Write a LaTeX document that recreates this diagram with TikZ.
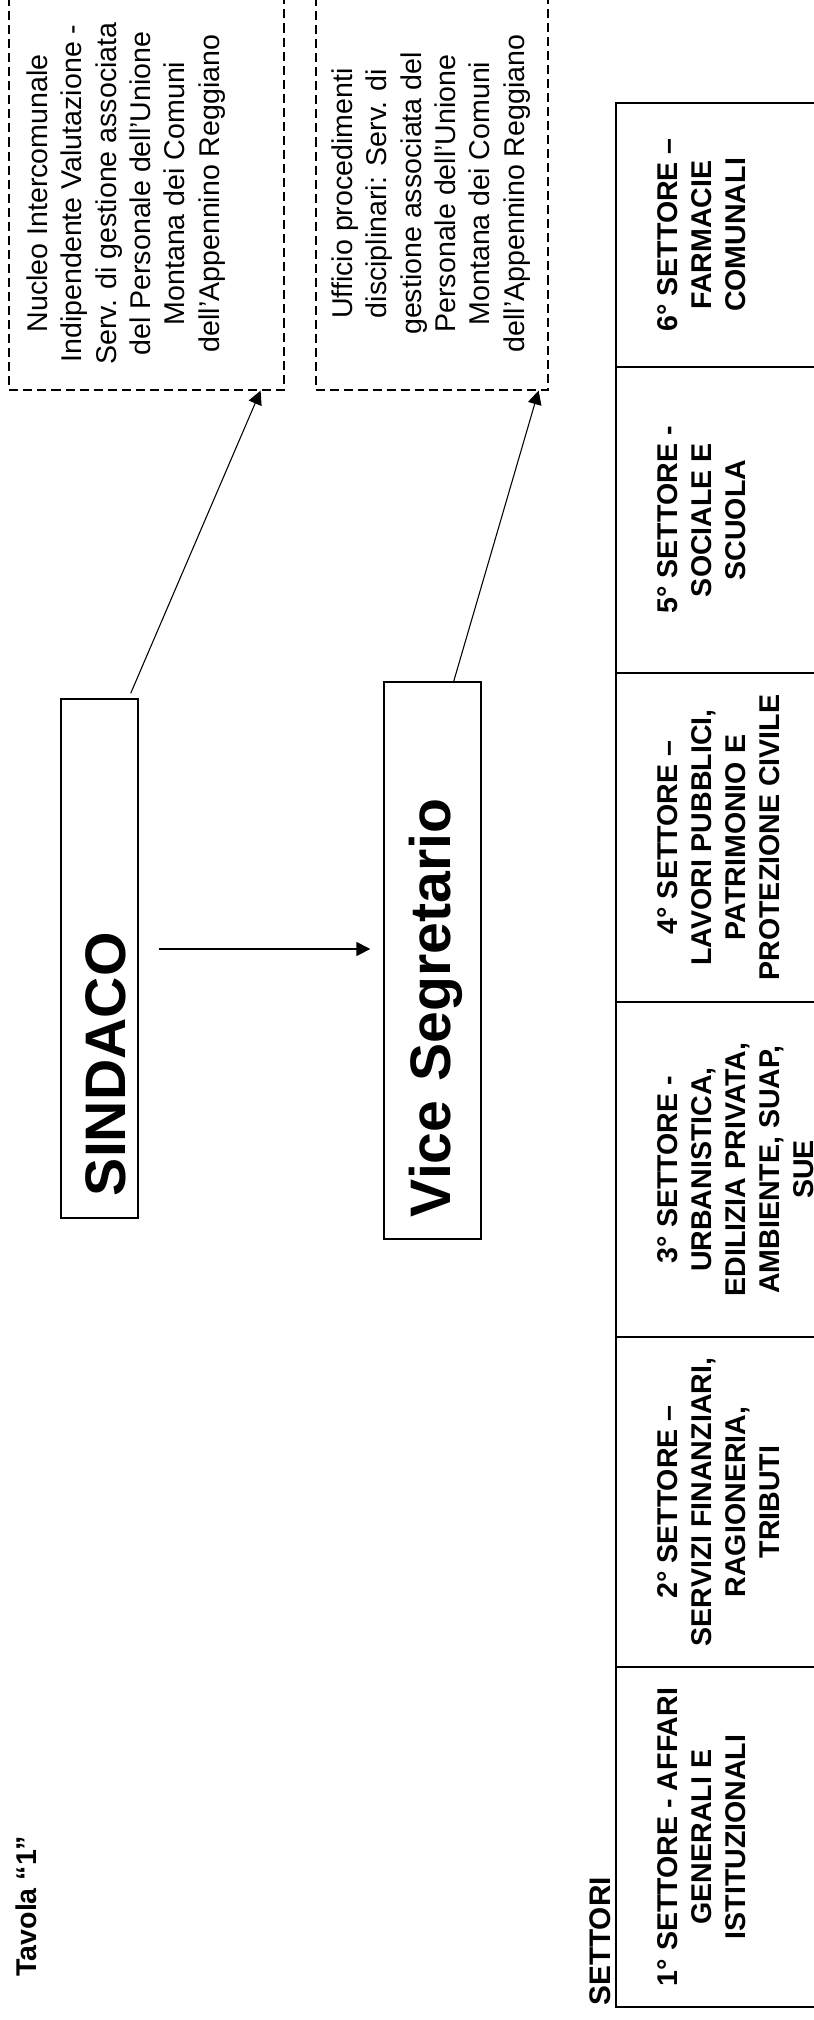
\documentclass[tikz,border=0pt]{standalone}
\usepackage{fontspec}
\setmainfont{Liberation Sans}
\usepackage{tikz}
\usetikzlibrary{arrows.meta,positioning,calc}
\newdimen\px \px=0.42pt

\begin{document}
\begin{tikzpicture}[x=\px, y=-\px,
        ruolo/.style={draw, line width=0.6pt, rotate=90, inner ysep=0pt, inner xsep=22\px,
                      align=left, font=\bfseries\fontsize{24}{28}\selectfont},
        ufficio/.style={draw, dash pattern=on 3.8pt off 2.1pt, line width=0.5pt, rotate=90},
        voce/.style={rotate=90, align=center, inner sep=0pt, anchor=north,
                     font=\fontsize{12}{14.4}\selectfont},
        settxt/.style={voce, font=\bfseries\fontsize{12}{14.3}\selectfont},
        settore/.style={draw, line width=0.7pt, rotate=90, minimum height=244\px},
        arr/.style={-{Triangle[length=5.8pt,width=5.8pt]}, line width=0.45pt}
    ]
    \useasboundingbox (0,0) rectangle (814,2020);

    % Titoli -----------------------------------------------------------
    \node[rotate=90, anchor=base west, inner sep=0pt,
          font=\bfseries\fontsize{12}{14}\selectfont] (tavola) at (36,1977) {Tavola “1”};
    \node[rotate=90, anchor=base west, inner sep=0pt,
          font=\bfseries\fontsize{12.5}{14}\selectfont] (settori) at (610,2006) {SETTORI};

    % Sindaco e Vice Segretario ----------------------------------------
    \node[ruolo, minimum height=77\px, text width=475\px, text height=21.8pt, text depth=0pt]
        (sindaco) at (99.5,958.5) {SINDACO};
    \node[ruolo, minimum height=97\px, text width=513\px, text height=20.2pt, text depth=5pt]
        (vice) at (432.5,960.5) {Vice Segretario};

    % Uffici ------------------------------------------------------------
    \node[ufficio, minimum width=393\px, minimum height=275\px] (niv) at (146.5,193.5) {};
    \node[voce] (nivtxt) at ([xshift=18\px]niv.north)
        {Nucleo Intercomunale\\Indipendente Valutazione -\\Serv. di gestione associata\\
         del Personale dell’Unione\\Montana dei Comuni\\dell’Appennino Reggiano};
    \node[ufficio, minimum width=393\px, minimum height=232\px] (upd) at (432,193.5) {};
    \node[voce] (updtxt) at ([xshift=16\px]upd.north)
        {Ufficio procedimenti\\disciplinari: Serv. di\\gestione associata del\\
         Personale dell’Unione\\Montana dei Comuni\\dell’Appennino Reggiano};

    % Settori -----------------------------------------------------------
    \node[settore, minimum width=264\px] (s6) at (738,235)    {};
    \node[settore, minimum width=306\px] (s5) at (738,520)    {};
    \node[settore, minimum width=329\px] (s4) at (738,837.5)  {};
    \node[settore, minimum width=335\px] (s3) at (738,1169.5) {};
    \node[settore, minimum width=330\px] (s2) at (738,1502)   {};
    \node[settore, minimum width=340\px] (s1) at (738,1837)   {};
    \node[settxt] (t6) at ([xshift=42\px]s6.north) {6° SETTORE –\\FARMACIE\\COMUNALI};
    \node[settxt] (t5) at ([xshift=42\px]s5.north) {5° SETTORE -\\SOCIALE E\\SCUOLA};
    \node[settxt] (t4) at ([xshift=42\px]s4.north)
        {4° SETTORE –\\LAVORI PUBBLICI,\\PATRIMONIO E\\PROTEZIONE CIVILE};
    \node[settxt] (t3) at ([xshift=42\px]s3.north)
        {3° SETTORE -\\URBANISTICA,\\EDILIZIA PRIVATA,\\AMBIENTE, SUAP,\\SUE};
    \node[settxt] (t2) at ([xshift=42\px]s2.north)
        {2° SETTORE –\\SERVIZI FINANZIARI,\\RAGIONERIA,\\TRIBUTI};
    \node[settxt] (t1) at ([xshift=42\px]s1.north)
        {1° SETTORE - AFFARI\\GENERALI E\\ISTITUZIONALI};

    % Frecce ------------------------------------------------------------
    \draw[arr, line width=0.7pt] ($(sindaco.south)+(20,-9.5)$) -- ($(vice.north)+(-13,-11.5)$);
    \draw[arr] ($(sindaco.south east)+(-8,-5)$) -- ($(niv.south west)+(-24,0)$);
    \draw[arr] ($(vice.south east)+(-28,0)$) -- ($(upd.south west)+(-10,0)$);
\end{tikzpicture}
\end{document}
